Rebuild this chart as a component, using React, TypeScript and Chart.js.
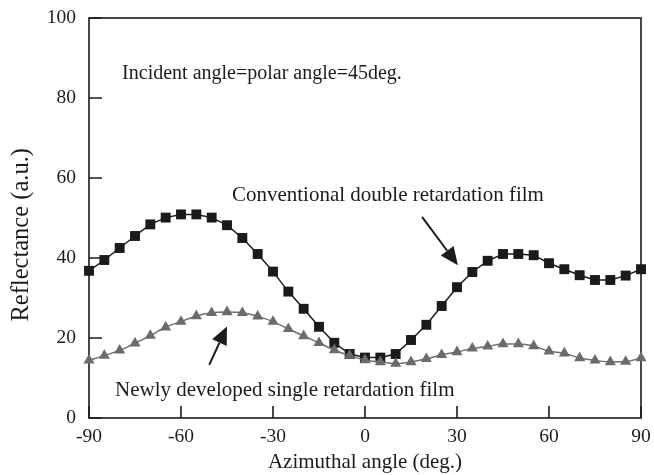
import React, { useEffect, useRef } from "react";
import { Chart, registerables } from "chart.js";

Chart.register(...registerables);

// Azimuthal angle (deg.), every 5 degrees
const angles: number[] = [
  -90, -85, -80, -75, -70, -65, -60, -55, -50, -45, -40, -35, -30, -25, -20, -15, -10, -5,
  0, 5, 10, 15, 20, 25, 30, 35, 40, 45, 50, 55, 60, 65, 70, 75, 80, 85, 90,
];

// Conventional double retardation film
const conventional: number[] = [
  36.8, 39.5, 42.5, 45.5, 48.4, 50.1, 50.9, 50.9, 50.1, 48.2, 45.0, 41.0, 36.6, 31.6, 27.3,
  22.8, 18.8, 16.0, 15.1, 15.1, 16.0, 19.5, 23.3, 28.0, 32.7, 36.5, 39.3, 41.0, 41.0, 40.7,
  38.7, 37.2, 35.7, 34.5, 34.5, 35.6, 37.2,
];

// Newly developed single retardation film
const newlyDeveloped: number[] = [
  14.4, 15.6, 16.9, 18.7, 20.6, 22.7, 24.1, 25.5, 26.3, 26.5, 26.3, 25.4, 24.1, 22.3, 20.5,
  18.8, 17.0, 15.6, 14.5, 14.0, 13.6, 14.0, 14.8, 15.8, 16.5, 17.4, 17.9, 18.5, 18.5, 18.0,
  16.7, 16.2, 15.0, 14.4, 14.0, 14.1, 15.0,
];

const xTicks: number[] = [-90, -60, -30, 0, 30, 60, 90];
const yTicks: number[] = [0, 20, 40, 60, 80, 100];

const xTitle = "Azimuthal angle (deg.)";
const yTitle = "Reflectance (a.u.)";
const conditionNote = "Incident angle=polar angle=45deg.";
const conventionalLabel = "Conventional double retardation film";
const newlyLabel = "Newly developed single retardation film";

const FONT = "'Liberation Serif', 'Times New Roman', serif";
const INK = "#1c1c1c";

type Arrow = { from: [number, number]; to: [number, number] };
const conventionalArrow: Arrow = { from: [18.6, 50.3], to: [30.3, 38.2] };
const newlyArrow: Arrow = { from: [-50.8, 13.3], to: [-45.0, 22.9] };

function drawArrow(ctx: CanvasRenderingContext2D, x1: number, y1: number, x2: number, y2: number) {
  const ang = Math.atan2(y2 - y1, x2 - x1);
  const headLen = 18;
  const headHalf = 8;
  const bx = x2 - headLen * Math.cos(ang);
  const by = y2 - headLen * Math.sin(ang);
  ctx.beginPath();
  ctx.moveTo(x1, y1);
  ctx.lineTo(bx, by);
  ctx.lineWidth = 2;
  ctx.strokeStyle = INK;
  ctx.stroke();
  ctx.beginPath();
  ctx.moveTo(x2, y2);
  ctx.lineTo(bx + headHalf * Math.sin(ang), by - headHalf * Math.cos(ang));
  ctx.lineTo(bx - headHalf * Math.sin(ang), by + headHalf * Math.cos(ang));
  ctx.closePath();
  ctx.fillStyle = INK;
  ctx.fill();
}

const framePlugin = {
  id: "frameAndNotes",
  beforeDatasetsDraw(chart: any) {
    const { ctx, chartArea, scales } = chart;
    const xs = scales.x;
    const ys = scales.y;
    ctx.save();
    // box around the plot
    ctx.strokeStyle = INK;
    ctx.lineWidth = 1.6;
    ctx.strokeRect(chartArea.left, chartArea.top, chartArea.right - chartArea.left, chartArea.bottom - chartArea.top);
    // inward ticks on the left and bottom axes
    ctx.beginPath();
    for (const v of yTicks) {
      const py = ys.getPixelForValue(v);
      ctx.moveTo(chartArea.left, py);
      ctx.lineTo(chartArea.left + 13, py);
    }
    for (const v of xTicks) {
      const px = xs.getPixelForValue(v);
      ctx.moveTo(px, chartArea.bottom);
      ctx.lineTo(px, chartArea.bottom - 12);
    }
    ctx.stroke();

    // vertical axis title, set a little below the plot centre
    ctx.fillStyle = INK;
    ctx.font = `24.5px ${FONT}`;
    ctx.textAlign = "center";
    ctx.textBaseline = "middle";
    ctx.translate(22, ys.getPixelForValue(45.8));
    ctx.rotate(-Math.PI / 2);
    ctx.fillText(yTitle, 0, 0);
    ctx.restore();
  },
  afterDatasetsDraw(chart: any) {
    const { ctx, scales } = chart;
    const xs = scales.x;
    const ys = scales.y;
    ctx.save();
    // notes
    ctx.fillStyle = INK;
    ctx.textAlign = "left";
    ctx.textBaseline = "middle";
    ctx.font = `20px ${FONT}`;
    ctx.fillText(conditionNote, xs.getPixelForValue(-79.2), ys.getPixelForValue(86));
    ctx.font = `21px ${FONT}`;
    ctx.fillText(conventionalLabel, xs.getPixelForValue(-43.4), ys.getPixelForValue(55.6));
    ctx.fillText(newlyLabel, xs.getPixelForValue(-81.5), ys.getPixelForValue(7));

    for (const a of [conventionalArrow, newlyArrow]) {
      drawArrow(
        ctx,
        xs.getPixelForValue(a.from[0]),
        ys.getPixelForValue(a.from[1]),
        xs.getPixelForValue(a.to[0]),
        ys.getPixelForValue(a.to[1])
      );
    }
    ctx.restore();
  },
};

export default function App() {
  const canvasRef = useRef<HTMLCanvasElement | null>(null);

  useEffect(() => {
    if (!canvasRef.current) return;
    const chart = new Chart(canvasRef.current, {
      type: "line",
      data: {
        datasets: [
          {
            label: newlyLabel,
            data: angles.map((a, i) => ({ x: a, y: newlyDeveloped[i] })),
            borderColor: "#6e6e6e",
            backgroundColor: "#6b6b6b",
            borderWidth: 1.5,
            pointStyle: "triangle",
            pointRadius: 6.4,
            pointBorderWidth: 0,
            tension: 0.4,
            cubicInterpolationMode: "monotone",
            clip: false,
          },
          {
            label: conventionalLabel,
            data: angles.map((a, i) => ({ x: a, y: conventional[i] })),
            borderColor: "#1a1a1a",
            backgroundColor: "#1a1a1a",
            borderWidth: 1.5,
            pointStyle: "rect",
            pointRadius: 7,
            pointBorderWidth: 0,
            tension: 0,
            clip: false,
          },
        ],
      },
      options: {
        animation: false,
        responsive: false,
        maintainAspectRatio: false,
        layout: { padding: { top: 18, right: 13, left: 6, bottom: 0 } },
        plugins: {
          legend: { display: false },
          tooltip: { enabled: false },
        },
        scales: {
          x: {
            type: "linear",
            min: -90,
            max: 90,
            afterBuildTicks: (s: any) => {
              s.ticks = xTicks.map((v) => ({ value: v }));
            },
            afterFit: (s: any) => {
              s.height = 57;
              s.paddingLeft = 0;
              s.paddingRight = 0;
            },
            grid: { display: false, drawTicks: false },
            border: { display: false },
            ticks: {
              color: INK,
              font: { family: FONT, size: 19.5 },
              padding: 7,
              maxRotation: 0,
              autoSkip: false,
            },
            title: {
              display: true,
              text: xTitle,
              color: INK,
              font: { family: FONT, size: 21 },
              padding: { top: 0, bottom: 0 },
            },
          },
          y: {
            type: "linear",
            min: 0,
            max: 100,
            afterBuildTicks: (s: any) => {
              s.ticks = yTicks.map((v) => ({ value: v }));
            },
            afterFit: (s: any) => {
              s.width = 83;
              s.paddingTop = 0;
              s.paddingBottom = 0;
            },
            grid: { display: false, drawTicks: false },
            border: { display: false },
            ticks: {
              color: INK,
              font: { family: FONT, size: 19.5 },
              padding: 13,
              autoSkip: false,
            },
            title: { display: false },
          },
        },
      },
      plugins: [framePlugin],
    });
    return () => chart.destroy();
  }, []);

  return (
    <div style={{ position: "fixed", left: 0, top: 0, width: 654, height: 475, background: "#fff" }}>
      <canvas ref={canvasRef} width={654} height={475} style={{ width: 654, height: 475 }} />
    </div>
  );
}
